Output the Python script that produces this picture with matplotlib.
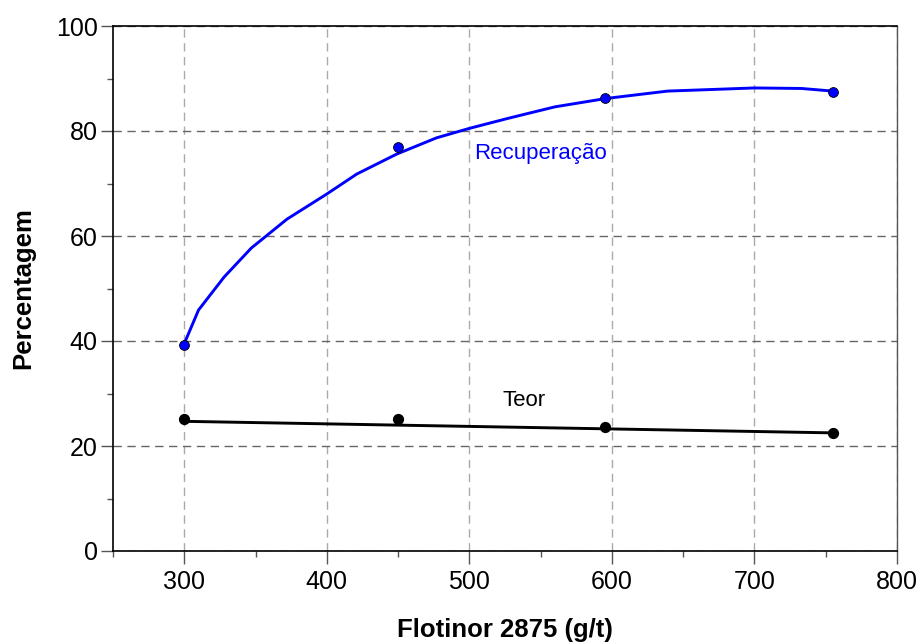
import numpy as np
import matplotlib
matplotlib.use("Agg")
import matplotlib.pyplot as plt
from matplotlib.ticker import MultipleLocator

plt.rcParams['font.family'] = ['Liberation Sans', 'DejaVu Sans']

dose = [300, 450, 595, 755]
recuperacao = [39.2, 76.9, 86.3, 87.5]
teor = [25.1, 25.2, 23.6, 22.5]

# trend curve of recuperacao
rec_tend_x = [300, 310, 328, 347, 372, 400, 421, 449, 477, 500, 527, 560, 596, 639, 700, 733, 755]
rec_tend_y = [39.5, 45.9, 52.2, 57.7, 63.2, 68.0, 71.8, 75.6, 78.7, 80.5, 82.4, 84.6, 86.2, 87.6, 88.2, 88.1, 87.6]
# trend line of teor, read at the ends of the dose range
teor_tend_x = [300, 755]
teor_tend_y = [24.7, 22.5]

fig = plt.figure(figsize=(9.23, 6.43), dpi=100)
ax = fig.add_axes([113/923, 1-551/643, (897-113)/923, (551-26)/643])

ax.plot(rec_tend_x, rec_tend_y, color='#0000ff', lw=2.1, zorder=3)
ax.plot(teor_tend_x, teor_tend_y, color='black', lw=2.1, zorder=3)
ax.scatter(dose, recuperacao, s=50, color='#0000ff', edgecolor='black', linewidth=0.6, zorder=4)
ax.scatter(dose, teor, s=50, color='black', zorder=4)

ax.text(550, 74.7, 'Recuperação', color='#0000ff', fontsize=16, ha='center', va='baseline')
ax.text(538.5, 27.6, 'Teor', color='black', fontsize=16, ha='center', va='baseline')

ax.set_xlim(250, 800)
ax.set_ylim(0, 100)
ax.xaxis.set_major_locator(MultipleLocator(100))
ax.xaxis.set_minor_locator(MultipleLocator(50))
ax.yaxis.set_major_locator(MultipleLocator(20))
ax.yaxis.set_minor_locator(MultipleLocator(10))
ax.tick_params(which='major', direction='out', length=9, width=1, labelsize=18, color='#555555')
ax.tick_params(which='minor', direction='out', length=4.5, width=1, color='#555555')
ax.tick_params(axis='y', which='major', pad=2)
ax.tick_params(axis='x', which='major', pad=5)

ax.xaxis.grid(True, which='major', linestyle=(0, (6, 4)), color='#aaaaaa', lw=1)
ax.yaxis.grid(True, which='major', linestyle=(0, (6, 4)), color='#666666', lw=1)
ax.set_axisbelow(True)

for s in ['left', 'bottom', 'top']:
    ax.spines[s].set_color('black')
    ax.spines[s].set_linewidth(1.2)
ax.spines['right'].set_color('#555555')
ax.spines['right'].set_linewidth(1)

ax.set_xlabel('Flotinor 2875 (g/t)', fontsize=18.5, fontweight='bold', labelpad=17)
ax.set_ylabel('Percentagem', fontsize=18.5, fontweight='bold', labelpad=15)

fig.savefig('out.png', dpi=100)
